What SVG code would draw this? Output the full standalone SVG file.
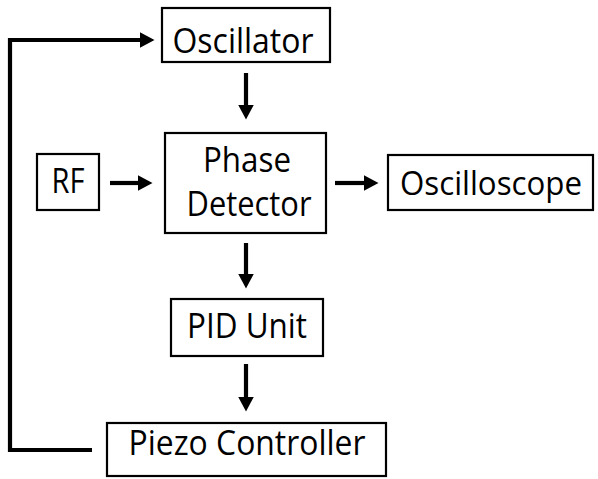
<svg xmlns="http://www.w3.org/2000/svg" width="598" height="479" viewBox="0 0 598 479">
<style>
.box{fill:#fff;stroke:#000;stroke-width:2.2}
.lbl{font-family:"Open Sans","Liberation Sans",sans-serif;font-size:34.5px;fill:#000;text-anchor:middle}
.edge{fill:none;stroke:#000;stroke-width:4.2}
</style>
<defs>
<marker id="ah" markerUnits="userSpaceOnUse" markerWidth="15" markerHeight="16" viewBox="0 0 15 16" refX="0.5" refY="8" orient="auto">
<path d="M0,0 L15,8 L0,16 z" fill="#000"/>
</marker>
</defs>
<rect width="598" height="479" fill="#fff"/>
<g id="connectors">
<path class="edge" d="M92,450 H10 V40 H140" marker-end="url(#ah)"/>
<path class="edge" d="M246,73 V105" marker-end="url(#ah)"/>
<path class="edge" d="M110,183 H138" marker-end="url(#ah)"/>
<path class="edge" d="M335,183 H364" marker-end="url(#ah)"/>
<path class="edge" d="M246,243 V274" marker-end="url(#ah)"/>
<path class="edge" d="M246,364 V397" marker-end="url(#ah)"/>
</g>
<g id="oscillator">
<rect class="box" x="162" y="8" width="168" height="54"/>
<text class="lbl" x="243" y="53" textLength="141" lengthAdjust="spacingAndGlyphs">Oscillator</text>
</g>
<g id="rf">
<rect class="box" x="37" y="154" width="62" height="56"/>
<text class="lbl" x="68" y="193" textLength="33" lengthAdjust="spacingAndGlyphs">RF</text>
</g>
<g id="phase-detector">
<rect class="box" x="165" y="133" width="161" height="100"/>
<text class="lbl" x="247" y="172" textLength="88" lengthAdjust="spacingAndGlyphs">Phase</text>
<text class="lbl" x="249" y="216" textLength="125" lengthAdjust="spacingAndGlyphs">Detector</text>
</g>
<g id="oscilloscope">
<rect class="box" x="388" y="155" width="205" height="55"/>
<text class="lbl" x="491" y="195" style="font-size:32px" textLength="182" lengthAdjust="spacingAndGlyphs">Oscilloscope</text>
</g>
<g id="pid-unit">
<rect class="box" x="171" y="299" width="152" height="57"/>
<text class="lbl" x="247" y="338" textLength="120" lengthAdjust="spacingAndGlyphs">PID Unit</text>
</g>
<g id="piezo-controller">
<rect class="box" x="107" y="423" width="279" height="53"/>
<text class="lbl" x="247" y="455" textLength="237" lengthAdjust="spacingAndGlyphs">Piezo Controller</text>
</g>
</svg>
